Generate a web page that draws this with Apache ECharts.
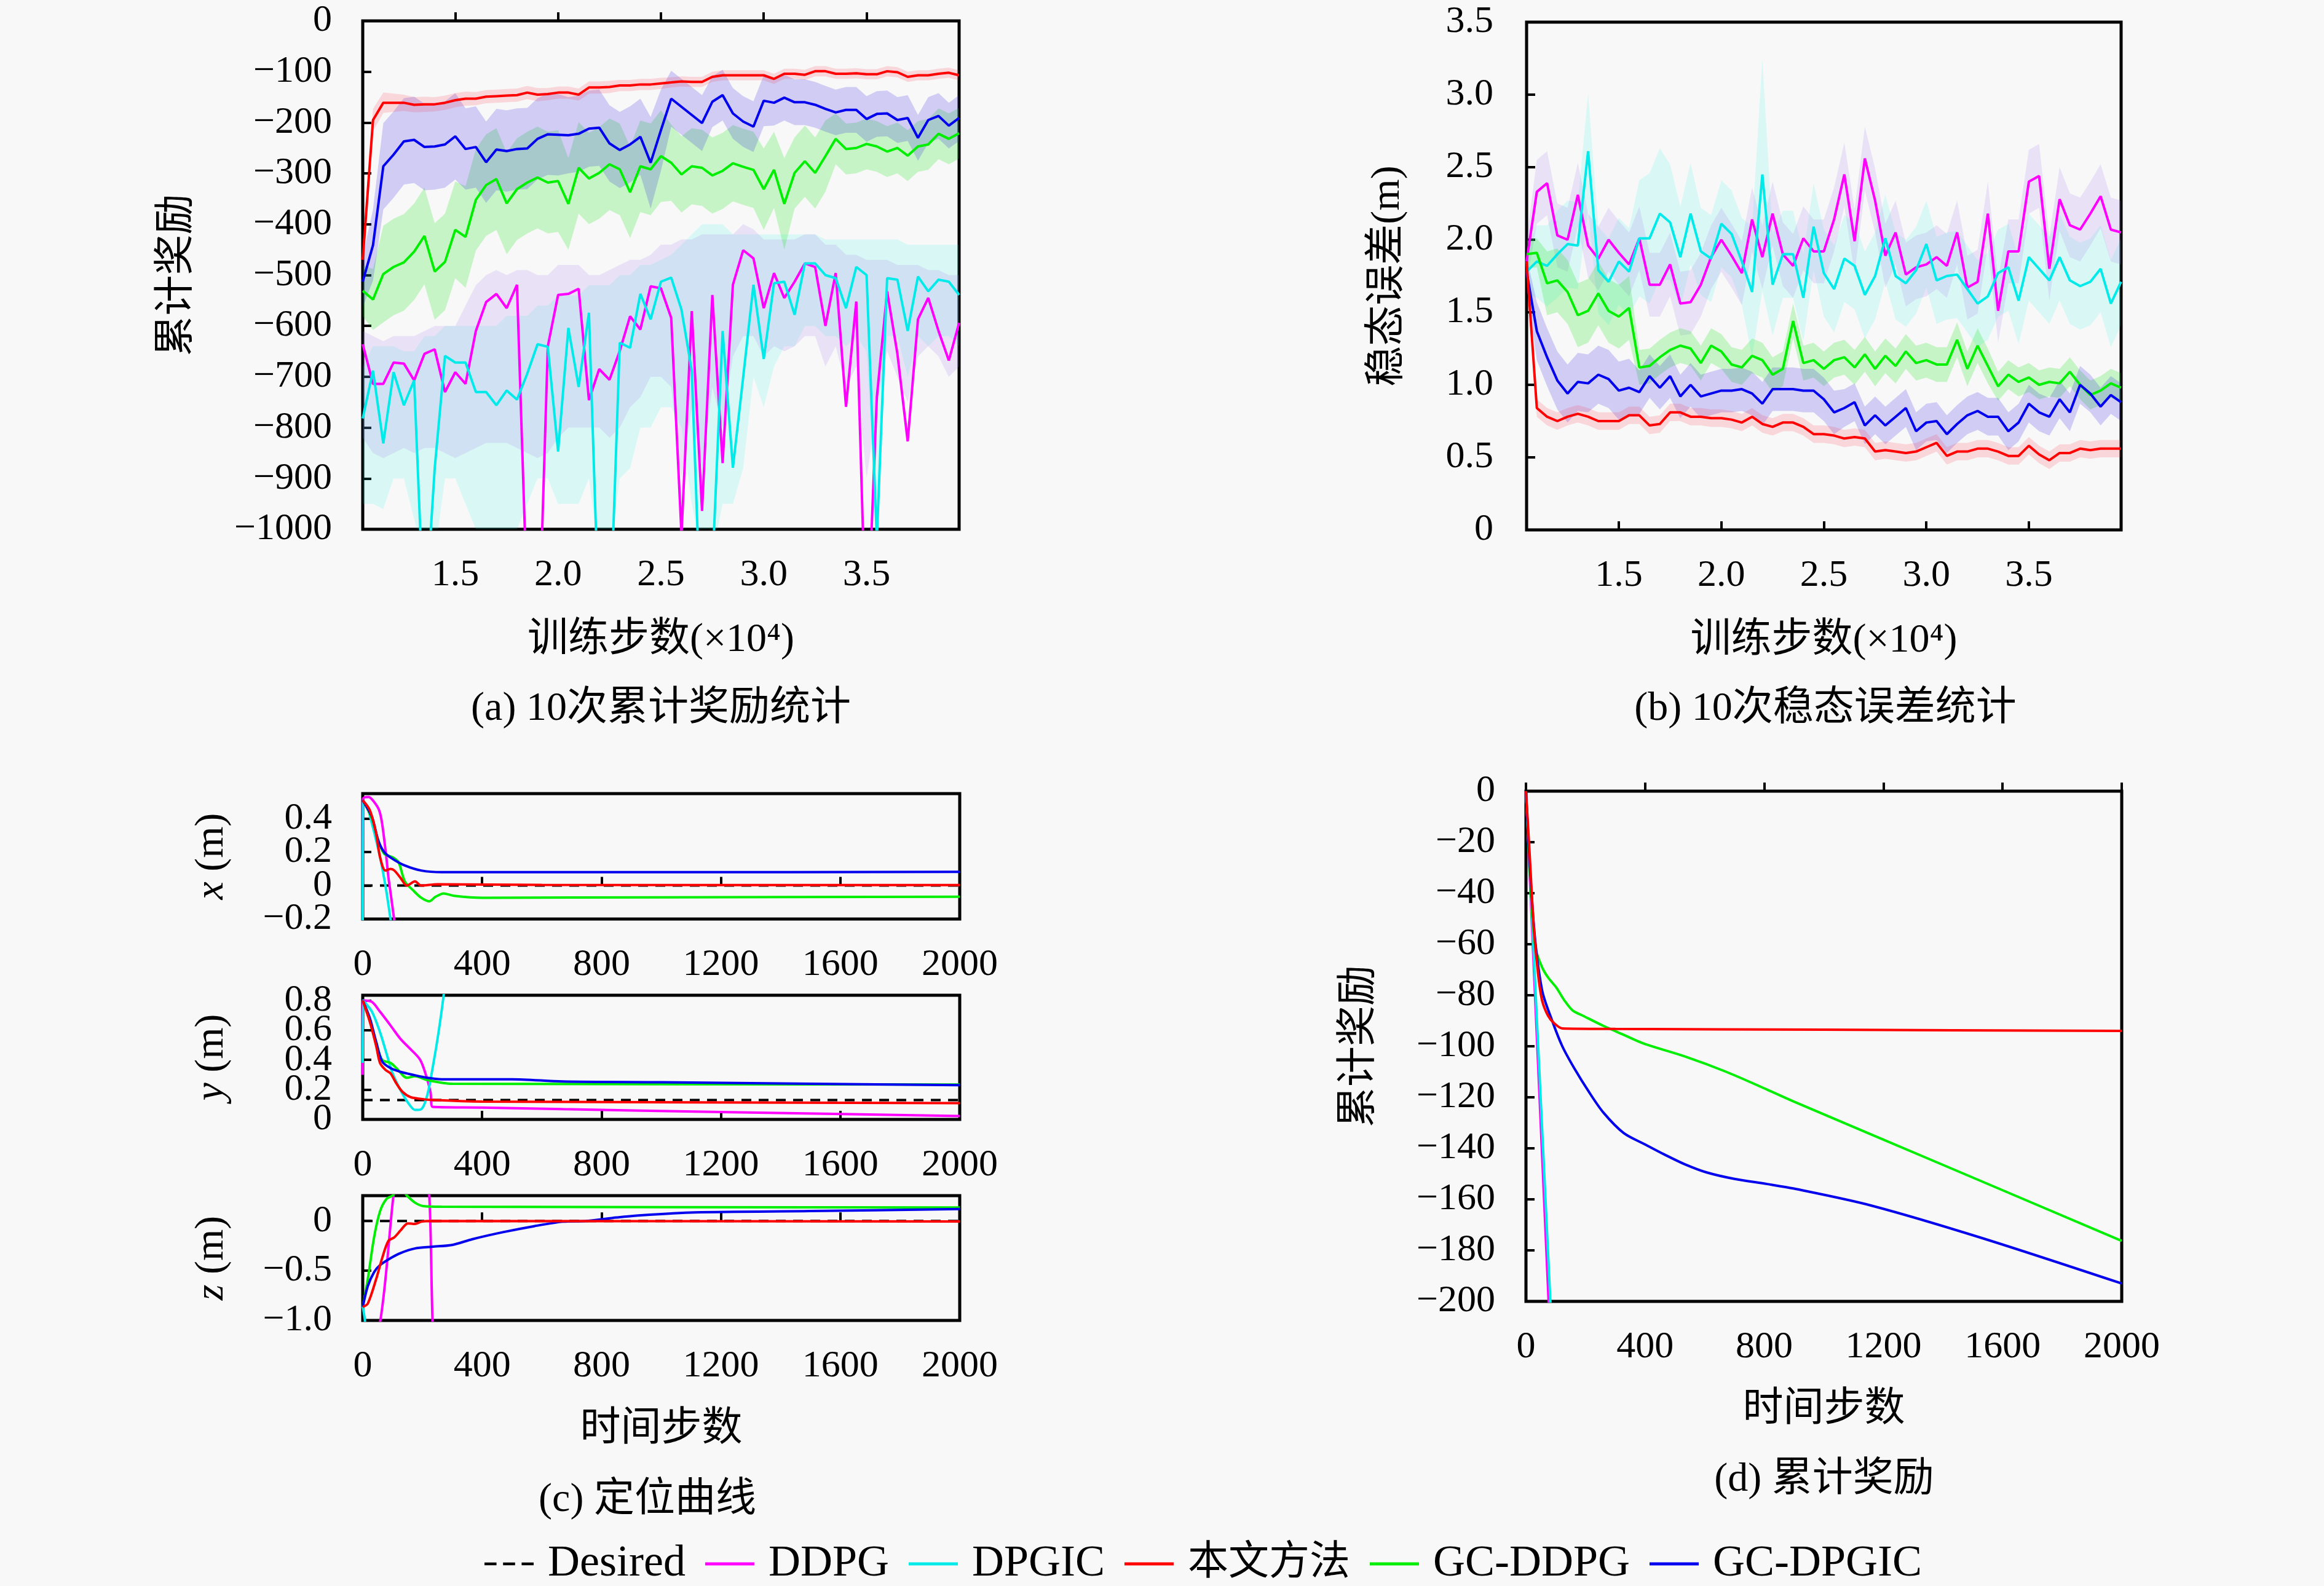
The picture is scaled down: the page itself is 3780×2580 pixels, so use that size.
<!DOCTYPE html>
<html>
<head>
<meta charset="utf-8">
<script src="https://cdn.jsdelivr.net/npm/echarts@6/dist/echarts.min.js"></script>
<style>
html, body { margin: 0; padding: 0; background: #f8f8f8; }
#main { width: 3780px; height: 2580px; }
</style>
</head>
<body>
<div id="main"></div>
<script>
// training steps (x10^4) shared by panels (a) and (b)
var trainSteps = [1.05,1.10,1.15,1.20,1.25,1.30,1.35,1.40,1.45,1.50,1.55,1.60,1.65,1.70,1.75,1.80,1.85,1.90,1.95,2.00,
    2.05,2.10,2.15,2.20,2.25,2.30,2.35,2.40,2.45,2.50,2.55,2.60,2.65,2.70,2.75,2.80,2.85,2.90,2.95,3.00,
    3.05,3.10,3.15,3.20,3.25,3.30,3.35,3.40,3.45,3.50,3.55,3.60,3.65,3.70,3.75,3.80,3.85,3.90,3.95];

// (a) cumulative reward, mean of 10 runs
var rewardDdpg = [-636,-714,-714,-672,-674,-707,-655,-646,-730,-691,
    -714,-610,-553,-537,-565,-519,-1150,-1300,-640,-539,
    -537,-527,-746,-685,-706,-649,-581,-607,-522,-526,
    -584,-1010,-571,-964,-539,-870,-519,-451,-467,-565,
    -496,-545,-513,-477,-484,-600,-496,-759,-552,-1250,
    -740,-532,-655,-827,-587,-545,-610,-668,-594];
var rewardDpgic = [-782,-688,-831,-691,-756,-707,-1200,-880,-659,-672,
    -672,-730,-730,-756,-727,-745,-694,-636,-641,-847,
    -604,-720,-574,-1200,-1220,-633,-643,-537,-587,-513,
    -505,-568,-688,-1250,-1080,-610,-879,-701,-519,-665,
    -516,-513,-578,-477,-477,-500,-506,-565,-484,-500,
    -1020,-506,-509,-610,-503,-532,-509,-513,-539];
var rewardOurs = [-470,-195,-161,-161,-161,-165,-164,-164,-161,-156,
    -153,-153,-149,-148,-147,-146,-141,-145,-144,-141,
    -141,-145,-131,-131,-130,-127,-127,-125,-125,-123,
    -121,-119,-120,-120,-110,-107,-107,-107,-107,-107,
    -114,-104,-104,-106,-99,-99,-104,-104,-103,-105,
    -105,-99,-101,-110,-107,-107,-104,-102,-107];
var rewardGcDdpg = [-531,-548,-498,-484,-475,-454,-423,-493,-474,-411,
    -425,-352,-323,-311,-359,-331,-318,-308,-318,-315,
    -360,-289,-310,-299,-282,-292,-337,-286,-292,-266,
    -279,-302,-286,-289,-304,-295,-280,-287,-293,-331,
    -293,-360,-299,-276,-299,-266,-232,-252,-250,-242,
    -247,-257,-250,-265,-247,-243,-222,-232,-221];
var rewardGcDpgic = [-513,-441,-286,-263,-237,-234,-248,-247,-243,-227,
    -252,-248,-278,-253,-256,-252,-251,-232,-223,-224,
    -225,-222,-212,-210,-241,-254,-243,-228,-279,-215,
    -153,-169,-185,-201,-159,-146,-182,-198,-208,-157,
    -161,-151,-160,-160,-165,-173,-180,-175,-175,-193,
    -183,-182,-195,-191,-230,-195,-187,-206,-191];

// (a) shaded ranges
var rewardDdpgHigh = [-610,-620,-630,-620,-620,-620,-610,-600,-600,-600,
    -560,-520,-500,-490,-500,-490,-490,-500,-500,-480,
    -480,-480,-500,-500,-490,-480,-470,-470,-460,-440,
    -440,-430,-430,-420,-420,-420,-420,-400,-410,-430,
    -430,-430,-430,-420,-420,-440,-440,-460,-460,-470,
    -470,-470,-480,-480,-480,-490,-490,-500,-500];
var rewardDdpgLow = [-820,-850,-860,-850,-840,-850,-840,-840,-850,-860,
    -850,-840,-830,-830,-830,-840,-850,-860,-850,-820,
    -800,-800,-800,-800,-820,-800,-760,-740,-700,-700,
    -720,-900,-760,-880,-720,-800,-660,-620,-620,-660,
    -640,-650,-640,-620,-620,-680,-640,-720,-680,-900,
    -760,-650,-700,-750,-660,-640,-660,-700,-680];
var rewardDpgicHigh = [-680,-640,-640,-640,-650,-650,-620,-620,-600,-600,
    -600,-600,-600,-600,-580,-580,-580,-560,-560,-540,
    -540,-540,-520,-520,-520,-500,-500,-480,-480,-470,
    -460,-440,-420,-400,-400,-400,-420,-420,-420,-420,
    -420,-420,-420,-420,-420,-430,-430,-430,-430,-430,
    -430,-430,-430,-440,-440,-440,-440,-440,-440];
var rewardDpgicLow = [-950,-950,-960,-900,-900,-980,-1050,-1050,-900,-900,
    -950,-1000,-1000,-1000,-1000,-1000,-950,-900,-900,-950,
    -950,-950,-900,-1050,-1050,-900,-880,-800,-800,-760,
    -760,-800,-950,-1050,-1050,-950,-950,-880,-700,-760,
    -680,-640,-640,-600,-600,-620,-620,-640,-620,-650,
    -1000,-620,-620,-700,-620,-640,-620,-620,-640];
var rewardOursSpread = [25,22,20,18,16,15,15,14,14,14,
    14,13,13,13,13,13,13,13,12,12,
    12,12,12,12,12,11,11,11,11,11,
    10,10,10,10,10,10,10,10,10,10,
    10,10,10,10,10,10,10,10,10,10,
    10,10,10,10,10,10,10,10,10];
var rewardGcDdpgSpread = [50,60,95,95,95,95,95,95,95,95,
    100,100,100,100,100,100,100,100,100,100,
    90,90,90,90,90,90,90,90,90,90,
    75,75,75,75,75,75,75,75,75,80,
    75,90,70,70,70,70,50,50,50,50,
    50,50,50,50,50,50,50,50,50];
var rewardGcDpgicSpread = [50,70,85,85,85,85,85,85,85,85,
    80,80,80,80,80,80,80,80,80,80,
    75,75,75,75,75,75,75,75,90,80,
    55,55,55,55,50,50,50,50,50,50,
    45,45,45,45,45,45,45,45,45,45,
    45,45,45,45,45,45,45,45,45];

// (b) steady-state error (m), mean of 10 runs
var errDdpg = [1.85,2.33,2.39,2.03,2.00,2.31,1.96,1.87,2.00,1.91,
    1.83,2.01,1.69,1.69,1.83,1.56,1.57,1.69,1.88,2.00,
    1.89,1.77,2.14,1.88,2.18,1.90,1.82,2.01,1.92,1.92,
    2.14,2.45,1.99,2.56,2.27,1.89,2.05,1.76,1.81,1.83,
    1.88,1.82,2.05,1.67,1.71,2.18,1.51,1.92,1.92,2.40,
    2.44,1.80,2.28,2.10,2.07,2.18,2.30,2.07,2.05];
var errDpgic = [1.78,1.85,1.82,1.90,1.97,1.96,2.61,1.79,1.71,1.85,
    1.78,2.01,2.01,2.18,2.12,1.88,2.18,1.92,1.87,2.11,
    2.04,1.85,1.64,2.45,1.69,1.90,1.90,1.60,2.09,1.77,
    1.66,1.87,1.82,1.62,1.75,2.01,1.75,1.70,1.79,1.97,
    1.72,1.75,1.76,1.66,1.56,1.61,1.77,1.81,1.58,1.88,
    1.80,1.72,1.88,1.72,1.68,1.71,1.80,1.56,1.71];
var errOurs = [1.85,0.84,0.78,0.75,0.78,0.80,0.78,0.75,0.75,0.75,
    0.79,0.79,0.72,0.73,0.81,0.81,0.78,0.78,0.77,0.77,
    0.76,0.74,0.78,0.73,0.71,0.74,0.74,0.71,0.66,0.66,
    0.65,0.63,0.64,0.63,0.54,0.55,0.54,0.53,0.54,0.57,
    0.60,0.51,0.54,0.54,0.56,0.56,0.54,0.51,0.51,0.58,
    0.52,0.48,0.53,0.53,0.56,0.55,0.56,0.56,0.56];
var errGcDdpg = [1.90,1.91,1.70,1.72,1.64,1.48,1.51,1.63,1.51,1.47,
    1.53,1.12,1.13,1.19,1.24,1.27,1.25,1.15,1.27,1.23,
    1.14,1.12,1.20,1.17,1.07,1.11,1.44,1.15,1.17,1.11,
    1.17,1.19,1.12,1.21,1.11,1.20,1.13,1.23,1.15,1.17,
    1.14,1.14,1.31,1.11,1.27,1.13,0.99,1.07,1.02,1.05,
    1.00,1.02,1.01,1.09,1.00,0.93,0.96,1.01,0.98];
var errGcDpgic = [1.78,1.37,1.19,1.03,0.94,1.02,1.01,1.07,1.04,0.96,
    0.98,0.95,1.06,0.98,1.06,0.92,1.00,0.92,0.94,0.96,
    0.96,0.97,0.94,0.87,0.97,0.97,0.97,0.96,0.96,0.90,
    0.81,0.84,0.88,0.72,0.79,0.72,0.78,0.84,0.68,0.74,
    0.75,0.66,0.73,0.79,0.82,0.78,0.78,0.68,0.74,0.87,
    0.81,0.78,0.90,0.81,1.00,0.94,0.85,0.93,0.88];

// (b) shaded ranges (half width)
var errDdpgSpread = [0.15,0.22,0.22,0.22,0.22,0.22,0.22,0.22,0.22,0.22,
    0.22,0.22,0.22,0.22,0.22,0.22,0.22,0.22,0.22,0.22,
    0.22,0.22,0.22,0.22,0.22,0.22,0.22,0.22,0.22,0.22,
    0.22,0.22,0.22,0.22,0.22,0.22,0.22,0.22,0.22,0.22,
    0.22,0.22,0.22,0.22,0.22,0.22,0.22,0.22,0.22,0.22,
    0.22,0.22,0.22,0.22,0.22,0.22,0.22,0.22,0.22];
var errDpgicSpread = [0.15,0.25,0.28,0.30,0.30,0.30,0.40,0.30,0.30,0.30,
    0.30,0.40,0.45,0.45,0.40,0.35,0.35,0.30,0.30,0.30,
    0.30,0.30,0.45,0.80,0.35,0.30,0.30,0.30,0.30,0.30,
    0.30,0.30,0.30,0.30,0.30,0.30,0.30,0.30,0.30,0.30,
    0.30,0.30,0.30,0.30,0.30,0.30,0.30,0.30,0.30,0.30,
    0.30,0.30,0.30,0.30,0.30,0.30,0.30,0.30,0.30];
var errOursSpread = [0.10,0.06,0.06,0.06,0.06,0.06,0.06,0.06,0.06,0.06,
    0.06,0.06,0.06,0.06,0.06,0.06,0.06,0.06,0.06,0.06,
    0.06,0.06,0.06,0.06,0.06,0.06,0.06,0.06,0.06,0.06,
    0.06,0.06,0.06,0.06,0.06,0.06,0.06,0.06,0.06,0.06,
    0.06,0.06,0.06,0.06,0.06,0.06,0.06,0.06,0.06,0.06,
    0.06,0.06,0.06,0.06,0.06,0.06,0.06,0.06,0.06];
var errGcDdpgSpread = [0.10,0.10,0.22,0.22,0.22,0.22,0.22,0.22,0.22,0.22,
    0.22,0.12,0.12,0.12,0.12,0.12,0.12,0.12,0.12,0.12,
    0.12,0.12,0.12,0.12,0.12,0.12,0.12,0.12,0.12,0.12,
    0.12,0.12,0.12,0.12,0.12,0.12,0.12,0.12,0.12,0.12,
    0.12,0.12,0.12,0.12,0.12,0.12,0.10,0.10,0.10,0.10,
    0.10,0.10,0.10,0.10,0.10,0.10,0.10,0.10,0.10];
var errGcDpgicSpread = [0.10,0.20,0.20,0.20,0.20,0.20,0.20,0.20,0.20,0.20,
    0.20,0.15,0.15,0.15,0.15,0.15,0.15,0.15,0.15,0.15,
    0.15,0.15,0.15,0.15,0.15,0.15,0.15,0.15,0.15,0.15,
    0.15,0.13,0.13,0.13,0.13,0.13,0.13,0.13,0.13,0.13,
    0.13,0.13,0.13,0.13,0.13,0.13,0.13,0.13,0.13,0.13,
    0.13,0.13,0.13,0.13,0.13,0.13,0.13,0.13,0.13];

// (c) positioning curves, [time step, position]
var desiredX = 0, desiredY = 0.13, desiredZ = 0;
var posXDdpg = [[0,-0.3],[1,0.52],[20,0.53],[38,0.5],[55,0.45],[65,0.37],[79,0.17],[86,0.05],[93,-0.04],[105,-0.2],[115,-0.35]];
var posXDpgic = [[0,-0.3],[1,0.5],[15,0.47],[31,0.37],[45,0.27],[58,0.17],[76,0.0],[93,-0.2],[100,-0.3]];
var posXOurs = [[0,0.51],[24,0.45],[45,0.31],[58,0.17],[76,0.09],[93,0.1],[106,0.09],[127,0.045],[148,0.0],[175,0.025],[196,0.0],[250,0.008],[600,0.004],[2000,0.003]];
var posXGcDdpg = [[0,0.51],[31,0.40],[52,0.27],[72,0.19],[100,0.17],[120,0.14],[141,0.025],[168,-0.027],[196,-0.073],[223,-0.094],[244,-0.067],[271,-0.047],[306,-0.061],[402,-0.073],[1000,-0.07],[2000,-0.067]];
var posXGcDpgic = [[0,0.51],[31,0.41],[52,0.27],[72,0.2],[100,0.16],[141,0.12],[196,0.09],[264,0.08],[1000,0.08],[2000,0.082]];

var posYDdpg = [[0,0.3],[1,0.8],[31,0.79],[58,0.724],[93,0.632],[127,0.54],[161,0.471],[192,0.402],[210,0.31],[227,0.184],[234,0.085],[400,0.08],[670,0.069],[1200,0.05],[2000,0.023]];
var posYDpgic = [[0,0.38],[1,0.8],[31,0.724],[58,0.586],[79,0.448],[100,0.31],[127,0.195],[155,0.103],[175,0.064],[196,0.069],[216,0.161],[237,0.379],[254,0.586],[271,0.834],[285,1.1]];
var posYOurs = [[0,0.8],[24,0.655],[45,0.494],[58,0.379],[76,0.333],[93,0.31],[113,0.241],[134,0.184],[161,0.149],[196,0.138],[230,0.131],[400,0.12],[2000,0.11]];
var posYGcDdpg = [[0,0.8],[24,0.66],[45,0.52],[65,0.40],[93,0.38],[113,0.345],[148,0.28],[175,0.29],[216,0.265],[300,0.24],[2000,0.235]];
var posYGcDpgic = [[0,0.8],[24,0.68],[45,0.52],[65,0.39],[93,0.345],[127,0.32],[168,0.30],[216,0.28],[264,0.27],[500,0.27],[670,0.255],[1000,0.25],[1500,0.24],[2000,0.23]];

var posZDdpg = [[0,-1.6],[58,-1.02],[103,0.26],[125,0.7],[205,0.7],[223,0.26],[234,-1.02],[245,-1.6]];
var posZDpgic = [[0,-0.86],[8,-1.02],[14,-1.4]];
var posZOurs = [[0,-0.864],[17,-0.83],[45,-0.584],[65,-0.374],[86,-0.2],[106,-0.164],[127,-0.094],[151,-0.024],[175,-0.03],[196,-0.007],[230,0],[2000,-0.005]];
var posZGcDdpg = [[0,-0.864],[17,-0.584],[38,-0.164],[58,0.098],[79,0.22],[100,0.255],[115,0.3],[135,0.3],[148,0.255],[175,0.185],[203,0.15],[264,0.143],[2000,0.136]];
var posZGcDpgic = [[0,-0.864],[17,-0.654],[38,-0.514],[58,-0.444],[93,-0.374],[127,-0.322],[175,-0.276],[230,-0.259],[299,-0.241],[368,-0.182],[470,-0.112],[574,-0.052],[670,-0.007],[750,0.0],[850,0.035],[923,0.056],[1113,0.087],[1500,0.1],[2000,0.12]];

// (d) cumulative reward along one episode, [time step, reward]
var stepRewardDdpg = [[0,0],[76,-200],[90,-240]];
var stepRewardDpgic = [[0,0],[82,-200],[95,-232]];
var stepRewardOurs = [[0,0],[12,-24],[26,-53],[40,-71],[54,-82],[74,-88],[95,-91],[122,-93],[300,-93.2],[1000,-93.5],[2000,-94]];
var stepRewardGcDdpg = [[0,0],[19,-44],[33,-62],[54,-69],[74,-73],[102,-77],[129,-82],[157,-86],[191,-88],[260,-92],[328,-95.5],[397,-99],[534,-104],[672,-110],[810,-117],[900,-121.7],[1400,-146.5],[2000,-176.3]];
var stepRewardGcDpgic = [[0,0],[26,-52],[54,-78],[88,-90],[122,-100],[164,-109],[212,-118],[260,-126],[328,-134],[402,-138.6],[466,-142.5],[534,-146.3],[605,-149.4],[700,-152],[810,-154],[900,-155.8],[1158,-162.4],[1526,-175],[2000,-193]];

var trainTicks = [1.5, 2.0, 2.5, 3.0, 3.5];
var posXTicks = [-0.2, 0, 0.2, 0.4];
var posYTicks = [0, 0.2, 0.4, 0.6, 0.8];
var posZTicks = [-1.0, -0.5, 0];
var legendNames = ['Desired', 'DDPG', 'DPGIC', '本文方法', 'GC-DDPG', 'GC-DPGIC'];

var FONT = "'Liberation Serif', 'Noto Sans CJK SC', serif";
var C_DDPG = '#ff00ff', C_DPGIC = '#00eaea', C_OURS = '#ff0000', C_GCDDPG = '#00ee00', C_GCDPGIC = '#0000ee';

function pairs(xs, ys) {
    return xs.map(function (x, i) { return [x, ys[i]]; });
}
function minus(s) {
    return String(s).replace('-', '\u2212');
}

function lineSeries(name, color, data, idx, smooth) {
    return {
        name: name, type: 'line', xAxisIndex: idx, yAxisIndex: idx,
        data: data, symbol: 'none', smooth: smooth || false, silent: true, z: 3,
        lineStyle: { color: color, width: 4 }, itemStyle: { color: color }
    };
}

// shaded range as one polygon, positioned through the axes with api.coord
function bandSeries(color, low, high, idx) {
    var data = trainSteps.map(function (x, i) { return [x, low[i], high[i]]; });
    return {
        type: 'custom', xAxisIndex: idx, yAxisIndex: idx, silent: true, z: 1, clip: true,
        data: data, encode: { x: 0, y: [1, 2] },
        renderItem: function (params, api) {
            if (params.dataIndex !== 0) return null;
            var top = [], bottom = [];
            for (var i = 0; i < data.length; i++) {
                top.push(api.coord([data[i][0], data[i][2]]));
                bottom.unshift(api.coord([data[i][0], data[i][1]]));
            }
            return { type: 'polygon', shape: { points: top.concat(bottom) }, style: { fill: color } };
        }
    };
}
function spreadBand(color, vals, spread, idx) {
    var low = vals.map(function (v, i) { return v - spread[i]; });
    var high = vals.map(function (v, i) { return v + spread[i]; });
    return bandSeries(color, low, high, idx);
}

var tickStyle = { show: true, inside: true, length: 14, lineStyle: { color: '#000', width: 4 } };
var labelStyle = { color: '#000', fontFamily: FONT, fontSize: 62, showMinLabel: true, showMaxLabel: true };
var nameStyle = { color: '#000', fontFamily: FONT, fontSize: 66, rich: { it: { fontFamily: FONT, fontSize: 66, fontStyle: 'italic' } } };

function xAxisOf(idx, min, max, opts) {
    var ax = {
        gridIndex: idx, type: 'value', min: min, max: max,
        axisLine: { show: false }, splitLine: { show: false },
        axisTick: Object.assign({}, tickStyle),
        axisLabel: Object.assign({ margin: 44 }, labelStyle),
        nameTextStyle: nameStyle
    };
    return Object.assign(ax, opts || {});
}
function yAxisOf(idx, min, max, opts) {
    var ax = {
        gridIndex: idx, type: 'value', position: 'left', min: min, max: max,
        axisLine: { show: false }, splitLine: { show: false },
        axisTick: Object.assign({}, tickStyle),
        axisLabel: Object.assign({ margin: 50 }, labelStyle),
        nameLocation: 'middle', nameRotate: 90, nameTextStyle: nameStyle
    };
    return Object.assign(ax, opts || {});
}
// the small position panels have crowded labels; every other label goes on a
// second, label-only axis so none of them gets dropped for overlapping
function posYAxes(idx, min, max, ticks, name, fmt) {
    var even = ticks.filter(function (v, i) { return i % 2 === 0; });
    var odd = ticks.filter(function (v, i) { return i % 2 === 1; });
    var main = yAxisOf(idx, min, max, {
        name: name, nameGap: 212,
        axisTick: Object.assign({ customValues: ticks }, tickStyle),
        axisLabel: Object.assign({ margin: 50, customValues: even, formatter: fmt }, labelStyle)
    });
    var extra = yAxisOf(idx, min, max, {
        axisTick: { show: false },
        axisLabel: Object.assign({ margin: 50, customValues: odd, formatter: fmt }, labelStyle)
    });
    return [main, extra];
}

function gridOf(left, top, width, height) {
    return { left: left, top: top, width: width, height: height, show: true, borderColor: '#000', borderWidth: 5, backgroundColor: 'transparent' };
}

function drawFigure() {
    var myChart = echarts.init(document.getElementById('main'));

    var trainLabel = { customValues: trainTicks, formatter: function (v) { return v.toFixed(1); } };
    var stepX = { interval: 400, axisLabel: Object.assign({ margin: 44, formatter: function (v) { return String(v); } }, labelStyle) };
    var signedFmt = function (v) { return v === 0 ? '0' : minus(v.toFixed(1)); };

    var xAxes = [
        xAxisOf(0, 1.05, 3.95, {
            axisTick: Object.assign({ customValues: trainTicks }, tickStyle),
            axisLabel: Object.assign({ margin: 44 }, labelStyle, trainLabel),
            name: '训练步数(×10⁴)', nameLocation: 'middle', nameGap: 148
        }),
        xAxisOf(1, 1.05, 3.95, {
            axisTick: Object.assign({ customValues: trainTicks }, tickStyle),
            axisLabel: Object.assign({ margin: 44 }, labelStyle, trainLabel),
            name: '训练步数(×10⁴)', nameLocation: 'middle', nameGap: 148
        }),
        xAxisOf(2, 0, 2000, stepX),
        xAxisOf(3, 0, 2000, stepX),
        xAxisOf(4, 0, 2000, Object.assign({ name: '时间步数', nameLocation: 'middle', nameGap: 145 }, stepX)),
        xAxisOf(5, 0, 2000, Object.assign({ name: '时间步数', nameLocation: 'middle', nameGap: 144 }, stepX))
    ];

    var xPos = posYAxes(2, -0.2, 0.55, posXTicks, '{it|x} (m)', signedFmt);
    var yPos = posYAxes(3, 0, 0.835, posYTicks, '{it|y} (m)', signedFmt);
    var yAxes = [
        yAxisOf(0, -1000, 0, {
            interval: 100, name: '累计奖励', nameGap: 268,
            axisLabel: Object.assign({ margin: 50, formatter: minus }, labelStyle)
        }),
        yAxisOf(1, 0, 3.5, {
            interval: 0.5, name: '稳态误差(m)', nameGap: 192,
            axisLabel: Object.assign({ margin: 54, formatter: function (v) { return v === 0 ? '0' : v.toFixed(1); } }, labelStyle)
        }),
        xPos[0],
        yPos[0],
        yAxisOf(4, -1.0, 0.255, {
            name: '{it|z} (m)', nameGap: 212,
            axisTick: Object.assign({ customValues: posZTicks }, tickStyle),
            axisLabel: Object.assign({ margin: 50, customValues: posZTicks, formatter: signedFmt }, labelStyle)
        }),
        yAxisOf(5, -200, 0, {
            interval: 20, name: '累计奖励', nameGap: 237,
            axisLabel: Object.assign({ margin: 50, formatter: minus }, labelStyle)
        }),
        xPos[1],
        yPos[1]
    ];

    var series = [];
    // (a)
    series.push(
        bandSeries('rgba(0,255,230,0.12)', rewardDpgicLow, rewardDpgicHigh, 0),
        bandSeries('rgba(160,110,240,0.17)', rewardDdpgLow, rewardDdpgHigh, 0),
        spreadBand('rgba(0,230,0,0.2)', rewardGcDdpg, rewardGcDdpgSpread, 0),
        spreadBand('rgba(50,30,230,0.2)', rewardGcDpgic, rewardGcDpgicSpread, 0),
        spreadBand('rgba(255,40,60,0.16)', rewardOurs, rewardOursSpread, 0),
        lineSeries('DDPG', C_DDPG, pairs(trainSteps, rewardDdpg), 0),
        lineSeries('DPGIC', C_DPGIC, pairs(trainSteps, rewardDpgic), 0),
        lineSeries('GC-DDPG', C_GCDDPG, pairs(trainSteps, rewardGcDdpg), 0),
        lineSeries('GC-DPGIC', C_GCDPGIC, pairs(trainSteps, rewardGcDpgic), 0),
        lineSeries('本文方法', C_OURS, pairs(trainSteps, rewardOurs), 0)
    );
    // (b)
    series.push(
        spreadBand('rgba(0,255,230,0.12)', errDpgic, errDpgicSpread, 1),
        spreadBand('rgba(160,110,240,0.17)', errDdpg, errDdpgSpread, 1),
        spreadBand('rgba(0,230,0,0.2)', errGcDdpg, errGcDdpgSpread, 1),
        spreadBand('rgba(50,30,230,0.2)', errGcDpgic, errGcDpgicSpread, 1),
        spreadBand('rgba(255,40,60,0.16)', errOurs, errOursSpread, 1),
        lineSeries('DDPG', C_DDPG, pairs(trainSteps, errDdpg), 1),
        lineSeries('DPGIC', C_DPGIC, pairs(trainSteps, errDpgic), 1),
        lineSeries('GC-DDPG', C_GCDDPG, pairs(trainSteps, errGcDdpg), 1),
        lineSeries('GC-DPGIC', C_GCDPGIC, pairs(trainSteps, errGcDpgic), 1),
        lineSeries('本文方法', C_OURS, pairs(trainSteps, errOurs), 1)
    );
    // (c)
    var desired = [desiredX, desiredY, desiredZ];
    var posSets = [
        [posXDdpg, posXDpgic, posXOurs, posXGcDdpg, posXGcDpgic],
        [posYDdpg, posYDpgic, posYOurs, posYGcDdpg, posYGcDpgic],
        [posZDdpg, posZDpgic, posZOurs, posZGcDdpg, posZGcDpgic]
    ];
    posSets.forEach(function (set, k) {
        var idx = 2 + k;
        series.push({
            name: 'Desired', type: 'line', xAxisIndex: idx, yAxisIndex: idx, symbol: 'none', silent: true, z: 2,
            data: [[0, desired[k]], [2000, desired[k]]],
            lineStyle: { color: '#000', width: 4, type: [16, 12] }, itemStyle: { color: '#000' }
        });
        series.push(
            lineSeries('DDPG', C_DDPG, set[0], idx, 0.3),
            lineSeries('DPGIC', C_DPGIC, set[1], idx, 0.3),
            lineSeries('GC-DDPG', C_GCDDPG, set[3], idx, 0.3),
            lineSeries('GC-DPGIC', C_GCDPGIC, set[4], idx, 0.3),
            lineSeries('本文方法', C_OURS, set[2], idx, 0.3)
        );
    });
    // (d)
    series.push(
        lineSeries('DDPG', C_DDPG, stepRewardDdpg, 5),
        lineSeries('DPGIC', C_DPGIC, stepRewardDpgic, 5),
        lineSeries('GC-DDPG', C_GCDDPG, stepRewardGcDdpg, 5, 0.3),
        lineSeries('GC-DPGIC', C_GCDPGIC, stepRewardGcDpgic, 5, 0.3),
        lineSeries('本文方法', C_OURS, stepRewardOurs, 5, 0.3)
    );

    function caption(text, x, y) {
        return {
            type: 'text', x: x, y: y, silent: true,
            style: { text: text, fill: '#000', fontFamily: FONT, fontSize: 66, align: 'center', verticalAlign: 'middle' }
        };
    }

    var dashIcon = 'path://M0,0H22V5H0Z M34,0H56V5H34Z M68,0H90V5H68Z';
    var option = {
        backgroundColor: '#f8f8f8',
        animation: false,
        grid: [
            gridOf(590, 34, 970, 827),
            gridOf(2483, 36, 967, 826),
            gridOf(590, 1291, 971, 204),
            gridOf(590, 1619, 971, 202),
            gridOf(590, 1945, 971, 203),
            gridOf(2482, 1287, 969, 830)
        ],
        xAxis: xAxes,
        yAxis: yAxes,
        legend: {
            data: legendNames.map(function (n) { return { name: n, icon: n === 'Desired' ? dashIcon : 'rect' }; }),
            left: 783, top: 2503,
            itemWidth: 80, itemHeight: 5, itemGap: 32,
            formatter: function (n) { return /[\u4e00-\u9fff]/.test(n) ? '{cjk|' + n + '}' : '{lat|' + n + '}'; },
            textStyle: {
                color: '#000', fontFamily: FONT, padding: [0, 0, 0, 18],
                rich: {
                    lat: { fontFamily: FONT, fontSize: 72, lineHeight: 76, color: '#000' },
                    cjk: { fontFamily: FONT, fontSize: 66, lineHeight: 76, color: '#000' }
                }
            }
        },
        graphic: [
            caption('(a) 10次累计奖励统计', 1075, 1154),
            caption('(b) 10次稳态误差统计', 2969, 1154),
            caption('(c) 定位曲线', 1053, 2441),
            caption('(d) 累计奖励', 2967, 2408)
        ],
        series: series
    };

    myChart.setOption(option);
}

drawFigure();
</script>
</body>
</html>
